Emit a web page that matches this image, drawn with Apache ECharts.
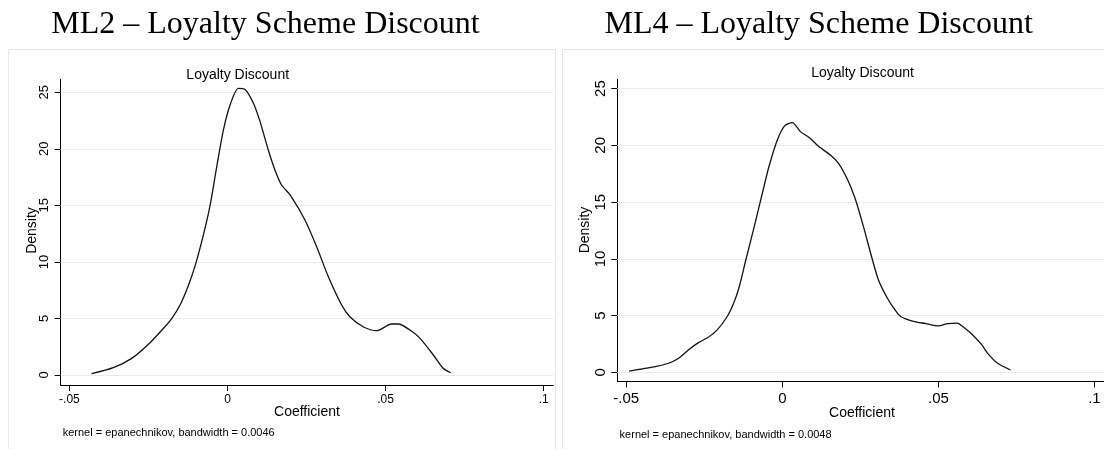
<!DOCTYPE html>
<html>
<head>
<meta charset="utf-8">
<script src="https://cdn.jsdelivr.net/npm/echarts@6/dist/echarts.min.js"></script>
<style>
  html, body { margin: 0; padding: 0; background: #ffffff; }
  #chart { width: 1104px; height: 449px; }
</style>
</head>
<body>
<div id="chart"></div>
<script>
// Kernel density of the loyalty-discount coefficient, model ML2
const ml2Coef = [-0.0430, -0.0361, -0.0303, -0.0245, -0.0200, -0.0176, -0.0150, -0.0124, -0.0103,
  -0.0077, -0.0055, -0.0034, -0.0013, 0.0010, 0.0034, 0.0055, 0.0082, 0.0103, 0.0129, 0.0150,
  0.0171, 0.0198, 0.0245, 0.0282, 0.0319, 0.0361, 0.0387, 0.0429, 0.0472, 0.0519, 0.0540,
  0.0577, 0.0609, 0.0651, 0.0682, 0.0706];
const ml2Density = [0.12, 0.65, 1.47, 2.86, 4.20, 5.01, 6.19, 7.90, 9.60,
  12.30, 15.00, 18.42, 21.66, 24.02, 25.35, 25.26, 24.02, 22.40, 19.89, 18.13,
  16.80, 15.92, 13.70, 11.34, 8.69, 6.19, 5.15, 4.27, 3.92, 4.51, 4.51,
  3.98, 3.24, 1.77, 0.59, 0.20];

// Kernel density of the loyalty-discount coefficient, model ML4
const ml4Coef = [-0.0491, -0.0450, -0.0400, -0.0360, -0.0330, -0.0300, -0.0270, -0.0240, -0.0210,
  -0.0176, -0.0155, -0.0138, -0.0117, -0.0090, -0.0064, -0.0043, -0.0016, 0.0008, 0.0032,
  0.0058, 0.0085, 0.0117, 0.0154, 0.0180, 0.0207, 0.0233, 0.0260, 0.0286, 0.0308, 0.0334,
  0.0361, 0.0380, 0.0420, 0.0460, 0.0500, 0.0530, 0.0560, 0.0580, 0.0610, 0.0640, 0.0658,
  0.0690, 0.0731];
const ml4Density = [0.12, 0.30, 0.55, 0.85, 1.30, 2.00, 2.60, 3.05, 3.70,
  4.95, 6.15, 7.55, 9.90, 12.84, 15.78, 18.12, 20.48, 21.74, 22.00,
  21.21, 20.71, 19.89, 19.15, 18.42, 17.10, 15.34, 12.84, 10.19, 8.14, 6.67,
  5.50, 4.90, 4.50, 4.30, 4.10, 4.30, 4.35, 4.00, 3.30, 2.40, 1.68,
  0.80, 0.21];

// Axis ticks and their printed labels
const xTickValues = [-0.05, 0, 0.05, 0.1];
const xTickLabels = ['-.05', '0', '.05', '.1'];
const yTickValues = [0, 5, 10, 15, 20, 25];
const yTickLabels = ['0', '5', '10', '15', '20', '25'];

// Panel texts
const panelTitles = ['ML2 \u2013 Loyalty Scheme Discount', 'ML4 \u2013 Loyalty Scheme Discount'];
const panelSubtitle = 'Loyalty Discount';
const xName = 'Coefficient';
const yName = 'Density';
const kernelNotes = ['kernel = epanechnikov, bandwidth = 0.0046', 'kernel = epanechnikov, bandwidth = 0.0048'];

const SANS = '"Liberation Sans", Arial, sans-serif';
const SERIF = '"Liberation Serif", "Times New Roman", serif';
const GRID_COLOR = '#e4edf0';

function pairs(xs, ys) { return xs.map((x, i) => [x, ys[i]]); }
function xLabel(v) { const i = xTickValues.findIndex(t => Math.abs(t - v) < 1e-9); return i >= 0 ? xTickLabels[i] : ''; }
function yLabel(v) { const i = yTickValues.findIndex(t => Math.abs(t - v) < 1e-9); return i >= 0 ? yTickLabels[i] : ''; }

function makeX(gridIndex, min, max, fontSize, margin) {
  return {
    type: 'value', gridIndex, min, max,
    axisLine: { show: true, onZero: false, lineStyle: { color: '#000', width: 1 } },
    axisTick: { show: true, customValues: xTickValues, length: 6, lineStyle: { color: '#000', width: 1 } },
    axisLabel: { customValues: xTickValues, formatter: xLabel, color: '#000', fontFamily: SANS, fontSize, margin },
    splitLine: { show: false }
  };
}
function makeY(gridIndex, min, max, fontSize, margin) {
  return {
    type: 'value', gridIndex, min, max,
    axisLine: { show: true, onZero: false, lineStyle: { color: '#000', width: 1 } },
    axisTick: { show: true, customValues: yTickValues, length: 6, lineStyle: { color: '#000', width: 1 } },
    axisLabel: { customValues: yTickValues, formatter: yLabel, rotate: 90, color: '#000', fontFamily: SANS, fontSize, margin },
    splitLine: { show: false }
  };
}
function makeSeries(idx, xs, ys) {
  return {
    type: 'line', xAxisIndex: idx, yAxisIndex: idx,
    data: pairs(xs, ys), showSymbol: false, smooth: 0.25,
    lineStyle: { color: '#111', width: 1.3 },
    // horizontal reference lines at each density tick, kept beneath the curve
    markLine: {
      silent: true, symbol: 'none', label: { show: false }, z: 1,
      lineStyle: { color: GRID_COLOR, width: 1, type: 'solid' },
      data: yTickValues.map(v => ({ yAxis: v }))
    },
    z: 3
  };
}

const chart = echarts.init(document.getElementById('chart'), null, { renderer: 'canvas' });
chart.setOption({
  animation: false,
  backgroundColor: '#ffffff',
  grid: [
    { left: 60.7, right: 550.7, top: 79.3, height: 305.7 },
    { left: 617.3, right: -3.1, top: 79.3, height: 302.2 }
  ],
  xAxis: [
    makeX(0, -0.05275, 0.10304, 12, 9),
    makeX(1, -0.05287, 0.10306, 15, 10)
  ],
  yAxis: [
    makeY(0, -0.884, 26.145, 13, 10),
    makeY(1, -0.80, 25.82, 15, 9)
  ],
  series: [
    makeSeries(0, ml2Coef, ml2Density),
    makeSeries(1, ml4Coef, ml4Density)
  ],
  graphic: [
    { type: 'rect', shape: { x: 8.5, y: 49.5, width: 547, height: 420 }, style: { fill: 'none', stroke: '#dfe8ec', lineWidth: 1 }, silent: true, z: -1 },
    { type: 'rect', shape: { x: 562.5, y: 49.5, width: 560, height: 420 }, style: { fill: 'none', stroke: '#dfe8ec', lineWidth: 1 }, silent: true, z: -1 },
    { type: 'text', x: 265.5, y: 24.5, style: { text: panelTitles[0], font: '32px ' + SERIF, fill: '#000', align: 'center', verticalAlign: 'middle' } },
    { type: 'text', x: 818.7, y: 24.5, style: { text: panelTitles[1], font: '32px ' + SERIF, fill: '#000', align: 'center', verticalAlign: 'middle' } },
    { type: 'text', x: 237.7, y: 75.5, style: { text: panelSubtitle, font: '14px ' + SANS, fill: '#000', align: 'center', verticalAlign: 'middle' } },
    { type: 'text', x: 862.6, y: 73.5, style: { text: panelSubtitle, font: '14px ' + SANS, fill: '#000', align: 'center', verticalAlign: 'middle' } },
    { type: 'text', x: 31.7, y: 230.5, rotation: Math.PI / 2, style: { text: yName, font: '14px ' + SANS, fill: '#000', align: 'center', verticalAlign: 'middle' } },
    { type: 'text', x: 585.3, y: 230, rotation: Math.PI / 2, style: { text: yName, font: '14px ' + SANS, fill: '#000', align: 'center', verticalAlign: 'middle' } },
    { type: 'text', x: 307, y: 412, style: { text: xName, font: '14px ' + SANS, fill: '#000', align: 'center', verticalAlign: 'middle' } },
    { type: 'text', x: 862, y: 413, style: { text: xName, font: '14px ' + SANS, fill: '#000', align: 'center', verticalAlign: 'middle' } },
    { type: 'text', x: 62.7, y: 433, style: { text: kernelNotes[0], font: '11px ' + SANS, fill: '#000', align: 'left', verticalAlign: 'middle' } },
    { type: 'text', x: 619.6, y: 435, style: { text: kernelNotes[1], font: '11px ' + SANS, fill: '#000', align: 'left', verticalAlign: 'middle' } }
  ]
});
</script>
</body>
</html>
